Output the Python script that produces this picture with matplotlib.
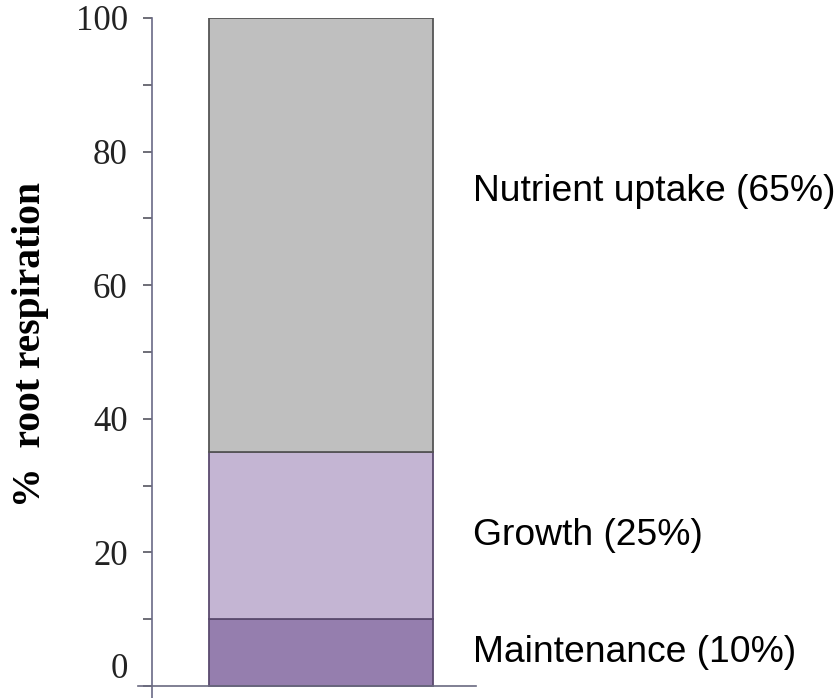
import matplotlib
matplotlib.use("Agg")
import matplotlib.pyplot as plt

# share of root respiration, stacked bottom to top
components = ["Maintenance", "Growth", "Nutrient uptake"]
shares = [10, 25, 65]
colors = ["#957eae", "#c4b5d3", "#bfbfbf"]
edge_colors = ["#5a4a6e", "#5a4a6e", "#555555"]

y_ticks = [0, 20, 40, 60, 80, 100]
y_minor = [10, 30, 50, 70, 90]

# vertical positions of the side labels (data units)
label_y = [5.0, 22.5, 74.0]

fig = plt.figure(figsize=(8.39, 6.98), dpi=100)
ax = fig.add_axes([152 / 839, 0.0, 1 - 152 / 839, 1 - 18 / 698])

bottom = 0
for share, col, ec in zip(shares, colors, edge_colors):
    ax.bar(0, share, width=1.0, bottom=bottom, color=col,
           edgecolor=ec, linewidth=1.3, zorder=2)
    bottom += share

ax.set_xlim(-0.5 - 57 / 224, -0.5 + (839 - 209) / 224)
ax.set_ylim(-1.8, 100)

for name, share, y in zip(components, shares, label_y):
    ax.text(0.68, y, "%s (%d%%)" % (name, share), fontsize=26.8,
            family="Liberation Sans", va="center", ha="left")

# baseline under the bar
ax.plot([-0.5 - 71 / 224, 0.5 + 43 / 224], [0, 0], color="#6a6a80",
        linewidth=1.2, clip_on=False, zorder=3)

for s in ["top", "right", "bottom"]:
    ax.spines[s].set_visible(False)
ax.spines["left"].set_color("#6a6a86")
ax.spines["left"].set_linewidth(1.2)

ax.set_xticks([])
ax.set_yticks(y_ticks)
ax.set_yticks(y_minor, minor=True)
ax.tick_params(axis="y", which="both", length=6.5, width=1.2, color="#555560",
               direction="out", pad=11)
for lab in ax.get_yticklabels():
    lab.set_family("Liberation Serif")
    lab.set_fontsize(25)
    lab.set_color("#222222")
# the zero label sits on top of the baseline
ax.get_yticklabels()[0].set_va("bottom")

ax.set_ylabel("%  root respiration", family="Liberation Serif",
              fontweight="bold", fontsize=28.5)
ax.yaxis.set_label_coords(-0.15, 0.52)

fig.savefig("out.png", dpi=100)
